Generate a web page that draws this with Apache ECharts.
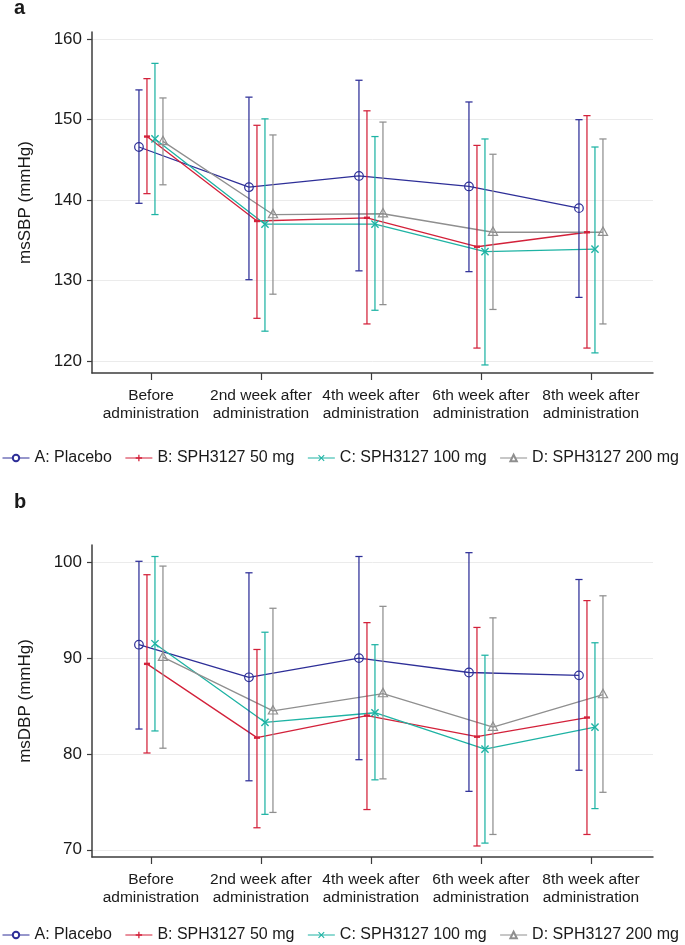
<!DOCTYPE html>
<html>
<head>
<meta charset="utf-8">
<script src="https://cdn.jsdelivr.net/npm/echarts@6/dist/echarts.min.js"></script>
<style>
html,body{margin:0;padding:0;background:#fff;}
#c{width:685px;height:945px;}
</style>
</head>
<body>
<div id="c"></div>
<script>
const categories = ['Before\nadministration', '2nd week after\nadministration', '4th week after\nadministration', '6th week after\nadministration', '8th week after\nadministration'];
const groupNames = ['A: Placebo', 'B: SPH3127 50 mg', 'C: SPH3127 100 mg', 'D: SPH3127 200 mg'];

// Panel a: msSBP (mmHg) — rows: A, B, C, D
const sbpMean  = [[146.6, 141.6, 143.0, 141.7, 139.0],
                  [147.9, 137.4, 137.8, 134.2, 136.0],
                  [147.6, 137.0, 137.0, 133.6, 133.9],
                  [147.3, 138.2, 138.3, 136.0, 136.0]];
const sbpUpper = [[153.7, 152.8, 154.9, 152.2, 150.0],
                  [155.1, 149.3, 151.1, 146.8, 150.5],
                  [157.0, 150.1, 147.9, 147.6, 146.6],
                  [152.7, 148.1, 149.7, 145.7, 147.6]];
const sbpLower = [[139.6, 130.1, 131.2, 131.1, 127.9],
                  [140.8, 125.3, 124.6, 121.6, 121.6],
                  [138.2, 123.7, 126.3, 119.5, 121.0],
                  [141.9, 128.3, 127.0, 126.4, 124.6]];

// Panel b: msDBP (mmHg)
const dbpMean  = [[91.4, 88.0, 90.0, 88.5, 88.2],
                  [89.4, 81.7, 84.0, 81.8, 83.8],
                  [91.5, 83.3, 84.3, 80.5, 82.8],
                  [90.1, 84.5, 86.3, 82.8, 86.2]];
const dbpUpper = [[100.1, 98.9, 100.6, 101.0, 98.2],
                  [98.7, 90.9, 93.7, 93.2, 96.0],
                  [100.6, 92.7, 91.4, 90.3, 91.6],
                  [99.6, 95.2, 95.4, 94.2, 96.5]];
const dbpLower = [[82.6, 77.2, 79.4, 76.1, 78.3],
                  [80.1, 72.3, 74.2, 70.4, 71.6],
                  [82.4, 73.7, 77.3, 70.7, 74.3],
                  [80.6, 73.9, 77.4, 71.6, 76.0]];

const sbpTicks = [120, 130, 140, 150, 160];
const dbpTicks = [70, 80, 90, 100];
const catTicks = [0, 1, 2, 3, 4];

// ---- styling / layout ----
const colors = ['#2E2F98', '#D3213A', '#1EB3A4', '#8F8F8F'];
const FONT = 'Liberation Sans, Arial, Helvetica, sans-serif';
const TXT = '#1a1a1a';
const AXC = '#3c3c3c';
const gridLeft = 92, gridRight = 32;
const xMin = -0.536, xMax = 4.564;
const unitPx = (685 - gridLeft - gridRight) / (xMax - xMin);
const dodgePx = [-12, -4, 4, 12];
const dodge = dodgePx.map(d => d / unitPx);
const legendSymbols = [
  'emptyCircle',
  'path://M4,0H6V4H10V6H6V10H4V6H0V4H4Z',
  'path://M0,1.2L1.2,0L5,3.8L8.8,0L10,1.2L6.2,5L10,8.8L8.8,10L5,6.2L1.2,10L0,8.8L3.8,5Z',
  'emptyTriangle'
];

function markerShape(k, cx, cy, color) {
  const st = {stroke: color, fill: 'none', lineWidth: 1.2};
  if (k === 0) return [{type: 'circle', shape: {cx, cy, r: 4.3}, style: st}];
  if (k === 1) return [{type: 'line', shape: {x1: cx - 3, y1: cy, x2: cx + 3, y2: cy}, style: {stroke: color, lineWidth: 2.4}}];
  if (k === 2) return [
    {type: 'line', shape: {x1: cx - 3.6, y1: cy - 3.6, x2: cx + 3.6, y2: cy + 3.6}, style: {stroke: color, lineWidth: 1.4}},
    {type: 'line', shape: {x1: cx - 3.6, y1: cy + 3.6, x2: cx + 3.6, y2: cy - 3.6}, style: {stroke: color, lineWidth: 1.4}}
  ];
  return [{type: 'polygon', shape: {points: [[cx, cy - 5.2], [cx - 4.6, cy + 3.2], [cx + 4.6, cy + 3.2]]}, style: st}];
}

function buildSeries(p, mean, lower, upper) {
  const out = [];
  for (let k = 0; k < 4; k++) {
    out.push({
      name: groupNames[k], type: 'line', xAxisIndex: p, yAxisIndex: p,
      data: mean[k].map((v, i) => [i + dodge[k], v]),
      symbol: legendSymbols[k], showSymbol: false, symbolSize: 8,
      lineStyle: {color: colors[k], width: 1.3},
      itemStyle: {color: colors[k]},
      silent: true, animation: false, z: 2
    });
  }
  for (let k = 0; k < 4; k++) {
    const color = colors[k];
    out.push({
      name: 'err' + p + k, type: 'custom', xAxisIndex: p, yAxisIndex: p,
      data: mean[k].map((v, i) => [i, v, lower[k][i], upper[k][i]]),
      encode: {x: 0, y: [1, 2, 3]},
      silent: true, animation: false, z: 3,
      renderItem: function (params, api) {
        const x = api.value(0) + dodge[k];
        const pm = api.coord([x, api.value(1)]);
        const pl = api.coord([x, api.value(2)]);
        const ph = api.coord([x, api.value(3)]);
        const lw = 1.25, cw = 3.6;
        const ch = [
          {type: 'line', shape: {x1: pl[0], y1: pl[1], x2: ph[0], y2: ph[1]}, style: {stroke: color, lineWidth: lw}},
          {type: 'line', shape: {x1: pl[0] - cw, y1: pl[1], x2: pl[0] + cw, y2: pl[1]}, style: {stroke: color, lineWidth: lw}},
          {type: 'line', shape: {x1: ph[0] - cw, y1: ph[1], x2: ph[0] + cw, y2: ph[1]}, style: {stroke: color, lineWidth: lw}}
        ].concat(markerShape(k, pm[0], pm[1], color));
        return {type: 'group', children: ch};
      }
    });
  }
  return out;
}

function xAxis(g) {
  return {
    gridIndex: g, type: 'value', min: xMin, max: xMax, position: 'bottom',
    axisLine: {show: true, onZero: false, lineStyle: {color: AXC, width: 1.5}},
    axisTick: {show: true, length: 7, customValues: catTicks, lineStyle: {color: AXC, width: 1.2}},
    axisLabel: {customValues: catTicks, fontSize: 15.5, lineHeight: 17.5, margin: 14, color: TXT, fontFamily: FONT,
      formatter: v => (categories[v] !== undefined && catTicks.indexOf(v) >= 0 ? categories[v] : '')},
    splitLine: {show: false}
  };
}
function yAxis(g, min, max, ticks, name) {
  return {
    gridIndex: g, type: 'value', min: min, max: max, minInterval: 10, maxInterval: 10,
    position: 'left',
    name: name, nameLocation: 'middle', nameGap: 58, nameRotate: 90,
    nameTextStyle: {fontSize: 17, color: TXT, fontFamily: FONT},
    axisLine: {show: true, onZero: false, lineStyle: {color: AXC, width: 1.5}},
    axisTick: {show: true, length: 5, customValues: ticks, lineStyle: {color: AXC, width: 1.2}},
    axisLabel: {customValues: ticks, fontSize: 17, margin: 10, color: TXT, fontFamily: FONT,
      formatter: v => (ticks.indexOf(v) >= 0 ? String(v) : '')},
    splitLine: {show: true, lineStyle: {color: '#ebebeb', width: 1}}
  };
}
function legend(top) {
  return {
    data: groupNames, top: top, left: 2, padding: 0, width: 683,
    itemWidth: 27, itemHeight: 8, itemGap: 13,
    selectedMode: false,
    lineStyle: {width: 1},
    itemStyle: {borderWidth: 1},
    textStyle: {fontSize: 16, color: TXT, fontFamily: FONT}
  };
}

const chart = echarts.init(document.getElementById('c'), null, {renderer: 'canvas'});
chart.setOption({
  backgroundColor: '#fff',
  animation: false,
  textStyle: {fontFamily: FONT},
  grid: [
    {left: gridLeft, right: gridRight, top: 32, height: 341},
    {left: gridLeft, right: gridRight, top: 545, height: 312}
  ],
  xAxis: [xAxis(0), xAxis(1)],
  yAxis: [
    yAxis(0, 118.5, 160.9, sbpTicks, 'msSBP (mmHg)'),
    yAxis(1, 69.25, 101.8, dbpTicks, 'msDBP (mmHg)')
  ],
  legend: [legend(450), legend(927)],
  graphic: [
    {type: 'text', left: 14, top: -2, style: {text: 'a', fontSize: 20, fontWeight: 'bold', fill: TXT, fontFamily: FONT}},
    {type: 'text', left: 14, top: 492, style: {text: 'b', fontSize: 20, fontWeight: 'bold', fill: TXT, fontFamily: FONT}}
  ],
  series: buildSeries(0, sbpMean, sbpLower, sbpUpper).concat(buildSeries(1, dbpMean, dbpLower, dbpUpper))
});
</script>
</body>
</html>
